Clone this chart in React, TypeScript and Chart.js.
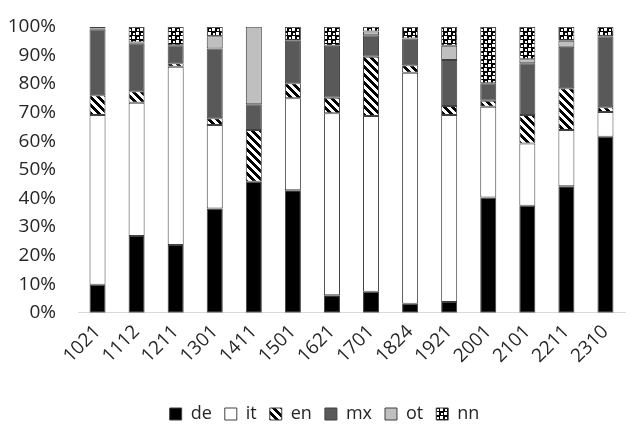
import React, { useEffect, useRef } from "react";
import { Chart, registerables } from "chart.js";

Chart.register(...registerables);

const categories = ["1021", "1112", "1211", "1301", "1411", "1501", "1621", "1701", "1824", "1921", "2001", "2101", "2211", "2310"];
const deValues = [9.8, 26.8, 23.7, 36.4, 45.8, 42.8, 6.1, 7.3, 3.1, 3.7, 40.3, 37.4, 44.2, 61.5];
const itValues = [59.3, 46.6, 62.3, 29.2, 0, 32.2, 63.6, 61.5, 80.8, 65.4, 31.7, 21.8, 19.7, 8.7];
const enValues = [6.9, 4.0, 1.2, 2.4, 18.1, 5.2, 5.5, 20.7, 2.6, 3.2, 2.1, 9.9, 14.6, 1.6];
const mxValues = [23.1, 16.8, 6.3, 24.4, 9.0, 14.9, 18.1, 7.5, 9.4, 16.1, 6.1, 18.1, 14.5, 24.9];
const otValues = [0.3, 0.3, 0, 4.3, 27.1, 0, 0, 1.3, 0, 4.9, 0, 1.4, 2.1, 0];
const nnValues = [0.6, 5.5, 6.5, 3.3, 0, 4.9, 6.7, 1.7, 4.1, 6.7, 19.8, 11.4, 4.9, 3.3];
const yTicks = [0, 10, 20, 30, 40, 50, 60, 70, 80, 90, 100];

function stripePattern(): CanvasPattern | string {
  const c = document.createElement("canvas");
  c.width = 8;
  c.height = 8;
  const g = c.getContext("2d");
  if (!g) return "#000";
  g.fillStyle = "#fff";
  g.fillRect(0, 0, 8, 8);
  g.fillStyle = "#000";
  for (let y = 0; y < 8; y++) {
    for (let x = 0; x < 8; x++) {
      if (((x - y + 16) % 8) < 4) g.fillRect(x, y, 1, 1);
    }
  }
  return g.createPattern(c, "repeat") || "#000";
}

function checkPattern(): CanvasPattern | string {
  const c = document.createElement("canvas");
  c.width = 8;
  c.height = 8;
  const g = c.getContext("2d");
  if (!g) return "#000";
  g.fillStyle = "#000";
  g.fillRect(0, 0, 8, 8);
  g.fillStyle = "#fff";
  g.fillRect(0, 0, 3, 3);
  g.fillRect(4, 4, 3, 3);
  g.fillRect(5, 1, 2, 2);
  g.fillRect(1, 5, 2, 2);
  return g.createPattern(c, "repeat") || "#000";
}

const shiftLegend = {
  id: "shiftLegend",
  afterLayout(chart: any) {
    const lg = chart.legend;
    if (lg) {
      lg.left += 12;
      lg.right += 12;
    }
  },
};

export default function App() {
  const ref = useRef<HTMLCanvasElement | null>(null);
  useEffect(() => {
    document.body.style.margin = "0";
    if (!ref.current) return;
    const font = "'Open Sans', sans-serif";
    const border = "#404040";
    const mk = (label: string, data: number[], bg: any) => ({
      label,
      data,
      backgroundColor: bg,
      borderColor: border,
      borderWidth: 1,
      borderSkipped: false as const,
      categoryPercentage: 1,
      barPercentage: 0.41,
    });
    const chart = new Chart(ref.current, {
      type: "bar",
      data: {
        labels: categories,
        datasets: [
          mk("de", deValues, "#000000"),
          mk("it", itValues, "#ffffff"),
          mk("en", enValues, stripePattern()),
          mk("mx", mxValues, "#595959"),
          mk("ot", otValues, "#bfbfbf"),
          mk("nn", nnValues, checkPattern()),
        ],
      },
      plugins: [shiftLegend],
      options: {
        animation: false,
        responsive: true,
        maintainAspectRatio: false,
        layout: { padding: { top: 26.7, right: 8, bottom: 6, left: 0 } },
        plugins: {
          tooltip: { enabled: false },
          legend: {
            position: "bottom",
            labels: {
              boxWidth: 12,
              boxHeight: 12,
              padding: 13,
              color: "#262626",
              font: { family: font, size: 18 },
            },
          },
        },
        scales: {
          x: {
            stacked: true,
            grid: { display: false, drawTicks: false },
            border: { display: true, color: "#d9d9d9", width: 1 },
            ticks: {
              minRotation: 45,
              maxRotation: 45,
              padding: 8,
              color: "#262626",
              font: { family: font, size: 19 },
            },
            afterFit: (s: any) => {
              s.height = 79.3;
            },
          },
          y: {
            stacked: true,
            min: 0,
            max: 100,
            afterBuildTicks: (s: any) => {
              s.ticks = yTicks.map((v) => ({ value: v }));
            },
            grid: { display: false, drawTicks: false },
            border: { display: false },
            ticks: {
              padding: 22,
              color: "#262626",
              font: { family: font, size: 19 },
              callback: (v: any) => v + "%",
            },
            afterFit: (s: any) => {
              s.width = 78;
              s.paddingTop = 0;
              s.paddingBottom = 0;
            },
          },
        },
      },
    });
    return () => chart.destroy();
  }, []);
  return (
    <div style={{ width: 633, height: 439, position: "relative", background: "#fff" }}>
      <canvas ref={ref} />
    </div>
  );
}
